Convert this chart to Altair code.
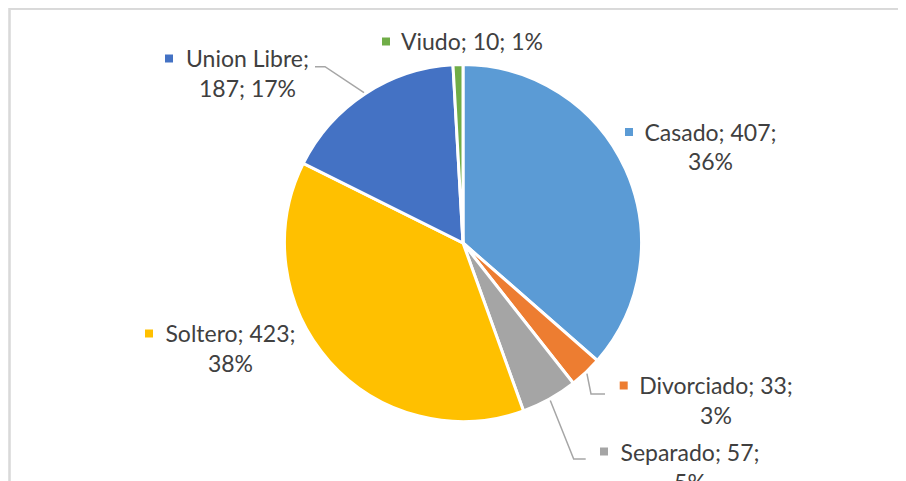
import math
import altair as alt
import pandas as pd

# ---------------- data ----------------
categories = ["Casado", "Divorciado", "Separado", "Soltero", "Union Libre", "Viudo"]
counts = [407, 33, 57, 423, 187, 10]
percents = ["36%", "3%", "5%", "38%", "17%", "1%"]
colors = ["#5B9BD5", "#ED7D31", "#A5A5A5", "#FFC000", "#4472C4", "#70AD47"]

# ---------------- layout (pixel positions inside the plot area) ----------------
CX, CY, R = 455, 235, 178.5
FONT = "Lato"
FONT_SIZE = 23
LINE_GAP = 29.5
TEXT_COLOR = "#404040"
LEADER_COLOR = "#A6A6A6"
W, H = 890, 473
# parts of "name; count; pct" that go on the first line
first_line_parts = {"Casado": 2, "Divorciado": 2, "Separado": 2, "Soltero": 2,
                    "Union Libre": 1, "Viudo": 3}
# label centre (x of text block, y of first line) and marker centre
label_pos = {
    "Casado": (702.5, 125.5, 621, 124),
    "Divorciado": (708, 379, 615.7, 377.5),
    "Separado": (682, 446, 596, 443.5),
    "Soltero": (222.5, 327, 141, 325.5),
    "Union Libre": (239.5, 52, 161, 50.5),
    "Viudo": (464, 35, 378, 33.5),
}
# leader line elbow and end points
leader_pts = {
    "Union Libre": [(317, 58.7), (307, 58.7)],
    "Divorciado": [(583, 386), (597, 386)],
    "Separado": [(565.7, 451), (577.7, 451)],
}

# ---------------- tables ----------------
pie_df = pd.DataFrame({"cat": categories, "n": counts, "idx": range(len(categories))})

total = sum(counts)
rows_text, rows_mark, rows_lead = [], [], []
cum = 0
for cat, n, pct in zip(categories, counts, percents):
    parts = [f"{cat}", f"{n}", pct]
    k = first_line_parts[cat]
    l1 = "; ".join(parts[:k]) + (";" if k < 3 else "")
    l2 = "; ".join(parts[k:])
    tx, ty, mx, my = label_pos[cat]
    rows_text.append({"cat": cat, "t": l1, "x": tx, "y": ty})
    if l2:
        rows_text.append({"cat": cat, "t": l2, "x": tx, "y": ty + LINE_GAP})
    rows_mark.append({"cat": cat, "x": mx, "y": my})
    mid = 2 * math.pi * (cum + n / 2) / total
    cum += n
    if cat in leader_pts:
        pts = [(CX + 180 * math.sin(mid), CY - 180 * math.cos(mid))] + leader_pts[cat]
        for i, (px, py) in enumerate(pts):
            rows_lead.append({"cat": cat, "o": i, "x": px, "y": py})

text_df = pd.DataFrame(rows_text)
mark_df = pd.DataFrame(rows_mark)
lead_df = pd.DataFrame(rows_lead)

color_scale = alt.Scale(domain=categories, range=colors)

pie = alt.Chart(pie_df).mark_arc(
    outerRadius=R, stroke="white", strokeWidth=3
).encode(
    theta=alt.Theta("n:Q", stack=True),
    color=alt.Color("cat:N", scale=color_scale, legend=None),
    order=alt.Order("idx:Q"),
    x=alt.value(CX), y=alt.value(CY),
)

leaders = alt.Chart(lead_df).mark_line(color=LEADER_COLOR, strokeWidth=1.5).encode(
    x=alt.X("x:Q", scale=None), y=alt.Y("y:Q", scale=None),
    detail="cat:N", order="o:Q",
)

markers = alt.Chart(mark_df).mark_point(shape="square", filled=True, size=64, opacity=1).encode(
    x=alt.X("x:Q", scale=None), y=alt.Y("y:Q", scale=None),
    color=alt.Color("cat:N", scale=color_scale, legend=None),
)

labels = alt.Chart(text_df).mark_text(
    font=FONT, fontSize=FONT_SIZE, color=TEXT_COLOR, align="center", baseline="middle"
).encode(
    x=alt.X("x:Q", scale=None), y=alt.Y("y:Q", scale=None), text="t:N",
)

frame_left = alt.Chart(pie_df).mark_rule(color="#D9D9D9", strokeWidth=1.5).encode(
    x=alt.value(1.5), y=alt.value(0), y2=alt.value(H)
)
frame_top = alt.Chart(pie_df).mark_rule(color="#D9D9D9", strokeWidth=1.5).encode(
    x=alt.value(1.5), x2=alt.value(W), y=alt.value(0.75)
)

chart = alt.layer(frame_left, frame_top, pie, leaders, markers, labels).properties(
    width=W, height=H, padding=0, autosize=alt.AutoSizeParams(type="none"),
    background="white",
).configure_view(stroke=None)

chart.save("out.html", embed_options={"renderer": "svg", "actions": False})
